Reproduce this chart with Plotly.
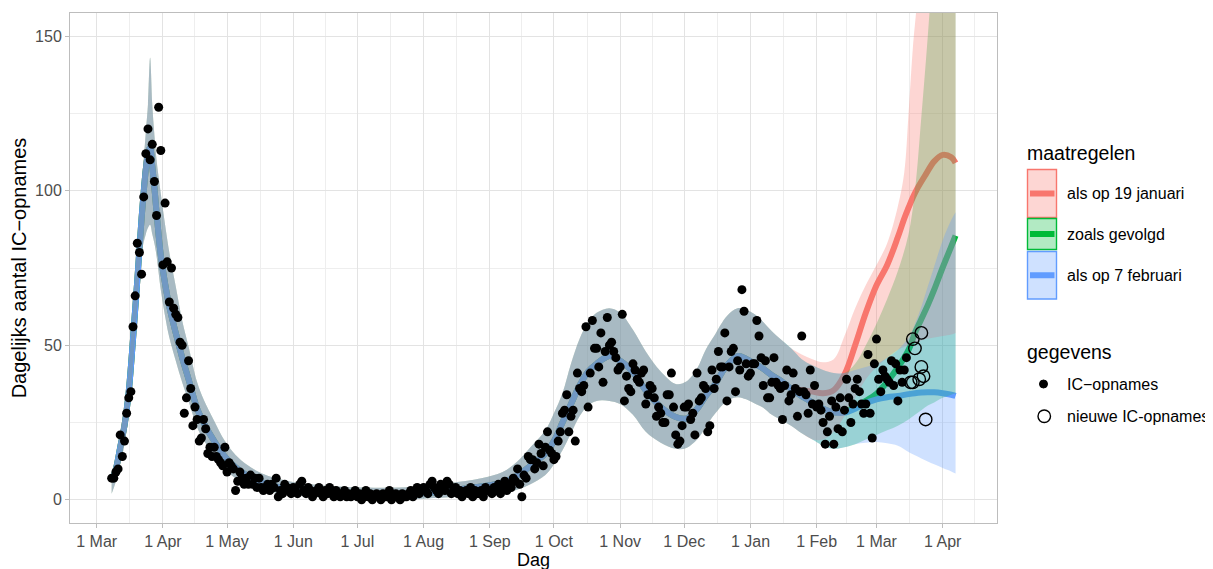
import pandas as pd
import plotly.graph_objects as go

# ---------------- data ----------------
# Daily IC admissions (black dots); one list per month, with the first date of each list
ic_2020_03 = [7, 7, 9, 10, 21, 14, 19, 28, 33, 35, 56, 66, 83, 80, 73, 98, 112, 120, 110, 115, 103, 92, 127, 113]
ic_2020_04 = [76, 96, 77, 64, 75, 62, 60, 59, 51, 50, 28, 33, 45, 36, 24, 30, 26, 19, 20, 26, 23, 15, 17, 14, 17, 14, 13, 12, 11, 17]
ic_2020_05 = [9, 12, 11, 10, 3, 6, 9, 7, 5, 7, 5, 8, 5, 7, 4, 7, 4, 3, 4, 5, 3, 5, 4, 7, 1, 3, 2, 5, 4, 3, 2]
ic_2020_06 = [4, 3, 2, 5, 6, 3, 2, 4, 3, 1, 2, 3, 4, 2, 1, 3, 2, 4, 2, 1, 3, 2, 1, 2, 3, 1, 2, 1, 2, 3]
ic_2020_07 = [1, 2, 0, 1, 3, 1, 2, 0, 1, 2, 1, 0, 2, 1, 1, 3, 0, 1, 2, 1, 0, 2, 1, 1, 2, 3, 1, 2, 4, 2, 3]
ic_2020_08 = [4, 3, 2, 5, 6, 4, 3, 2, 5, 4, 3, 6, 5, 2, 3, 4, 2, 3, 1, 2, 3, 2, 4, 1, 3, 2, 2, 3, 1, 4, 3]
ic_2020_09 = [3, 2, 4, 3, 5, 2, 4, 6, 3, 5, 4, 7, 6, 10, 5, 1, 8, 7, 14, 13, 13, 10, 12, 18, 15, 11, 17, 22, 16, 15]
ic_2020_10 = [13, 14, 19, 22, 28, 29, 34, 22, 27, 29, 19, 41, 36, 35, 37, 56, 30, 41, 58, 49, 49, 43, 54, 38, 48, 59, 50, 51, 48, 46, 42]
ic_2020_11 = [43, 60, 32, 40, 36, 35, 44, 42, 39, 38, 41, 42, 31, 34, 37, 36, 33, 27, 30, 28, 25, 25, 34, 34, 41, 30, 21, 18, 19, 24]
ic_2020_12 = [30, 30, 31, 26, 28, 21, 41, 32, 33, 37, 36, 22, 24, 42, 36, 39, 48, 43, 43, 54, 32, 43, 48, 49, 35, 45, 42, 68, 61, 44, 40]
ic_2021_01 = [41, 44, 44, 58, 53, 46, 37, 45, 33, 33, 38, 46, 38, 37, 36, 26, 37, 42, 32, 34, 41, 36, 27, 35, 53, 35, 34, 28, 42, 31, 37]
ic_2021_02 = [30, 31, 29, 25, 18, 22, 27, 32, 18, 30, 23, 33, 22, 29, 39, 33, 25, 31, 36, 39, 35, 31, 28, 31, 47, 28, 20, 44]
ic_2021_03 = [52, 39, 35, 42, 40, 39, 38, 45, 37, 44, 32, 42, 38, 42, 46]

ic_months = [
    ("2020-03-08", ic_2020_03), ("2020-04-01", ic_2020_04), ("2020-05-01", ic_2020_05),
    ("2020-06-01", ic_2020_06), ("2020-07-01", ic_2020_07), ("2020-08-01", ic_2020_08),
    ("2020-09-01", ic_2020_09), ("2020-10-01", ic_2020_10), ("2020-11-01", ic_2020_11),
    ("2020-12-01", ic_2020_12), ("2021-01-01", ic_2021_01), ("2021-02-01", ic_2021_02),
    ("2021-03-01", ic_2021_03),
]

# New IC admissions (open circles)
new_dates = ["2021-03-17", "2021-03-18", "2021-03-18", "2021-03-19", "2021-03-21",
             "2021-03-22", "2021-03-22", "2021-03-23", "2021-03-24"]
new_values = [38, 52, 38, 49, 39, 54, 43, 40, 26]

# Model fit: days since 2020-03-01
DAY0 = "2020-03-01"
hist_day = [7, 9, 11, 13, 15, 17, 19, 21, 23, 24, 25, 26, 27, 28, 30, 32, 34, 37, 40, 43,
            47, 50, 55, 60, 65, 70, 75, 80, 90, 100, 115, 130, 150, 165, 180, 190, 197, 203, 210, 214,
            218, 222, 226, 230, 234, 240, 245, 251, 257, 264, 271, 276, 281, 285, 289, 295, 300, 304, 308, 312,
            316, 320]
hist_fit = [6, 10, 17, 24, 35, 52, 71, 91, 107, 112, 114, 108, 101, 93, 79, 70, 62.5, 54, 46, 39,
            29.5, 25, 19, 14, 10.5, 8, 6.3, 5, 3.5, 2.6, 2, 1.8, 2, 3, 4.3, 5.6, 7.9, 11, 15, 19,
            25, 31, 37, 41.5, 44, 46.5, 45, 41.3, 35.4, 30, 26.8, 26.3, 29.4, 33.5, 37, 43.5, 46.5, 45.6, 44, 42.4,
            40.3, 38.6]
hist_lo = [2, 6, 11.5, 18, 28, 44, 63, 80, 86, 88, 89, 86, 83, 79, 68, 59.5, 52.5, 45, 38, 32,
           23.5, 19.5, 14, 10, 7, 5, 3.8, 2.8, 1.6, 1, 0.4, 0.2, 0.3, 0.8, 1.2, 2, 3.3, 5, 8, 11.5,
           16, 21.5, 27, 30.5, 32, 32, 31, 27.5, 22, 18.5, 16.5, 16.8, 19.5, 23.5, 27.5, 32, 33.2, 32.5, 31.2, 29.8,
           27.5, 26]
hist_hi = [9, 13.5, 22, 30, 43, 62, 82, 101, 119, 128, 143, 128, 118, 110, 99, 89, 80, 69, 58, 49.5,
           38, 32.5, 25.5, 19, 14.5, 11.5, 9.3, 7.8, 6, 5, 4.2, 3.9, 4.2, 5.4, 7, 9, 12.5, 17, 22.5, 28,
           34.5, 44, 52, 57.5, 60.5, 62, 60.5, 55, 48, 41.5, 37.5, 38.3, 42.5, 48.5, 53, 59.5, 62, 61.5, 60, 57.5,
           54.5, 52]

# Scenario "als op 19 januari"
red_day = [325, 330, 335, 340, 345, 350, 355, 360, 365, 370, 375, 378, 380, 382, 384, 388, 392, 396, 400, 402]
red_fit = [36, 35.5, 35, 34.5, 35.5, 40.5, 50, 60.5, 69.4, 76, 85, 91, 94.5, 97.8, 100.6, 105.2, 109.5, 111.6, 110.8, 109]
red_lo = [24, 21.5, 19.5, 19.5, 22, 27, 33, 39, 43, 46, 48.5, 49.5, 50, 50.5, 51, 52, 52.5, 53, 53.5, 54]
red_hi = [49, 47, 45.5, 44.5, 45.5, 53, 62, 69.5, 76, 83, 95, 106, 125, 146, 162, 210, 260, 310, 360, 380]

# Scenario "zoals gevolgd"
green_day = [325, 330, 335, 340, 345, 350, 355, 360, 365, 370, 375, 380, 383, 386, 389, 392, 396, 400, 402]
green_fit = [36, 33.5, 31.5, 29.5, 28.3, 28.7, 30, 32, 34.3, 38.2, 42.8, 48.5, 54, 58.5, 63, 68, 75.2, 82, 85.5]
green_lo = [24, 21.5, 19.5, 17.5, 16.5, 17, 18, 19.5, 21, 22.5, 24, 26, 27.5, 29, 30.5, 31.5, 33, 34, 34.5]
green_hi = [49, 45.5, 43.5, 42, 41, 41, 44, 50, 57, 65, 74, 86, 100, 124, 150, 180, 220, 260, 280]

# Scenario "als op 7 februari"
blue_day = [325, 330, 335, 340, 345, 350, 355, 360, 365, 370, 375, 380, 383, 386, 389, 392, 396, 400, 402]
blue_fit = [36, 33.5, 31.5, 29.5, 28.3, 28.2, 29.5, 31.3, 32.5, 33.2, 33.6, 34.2, 34.5, 34.7, 34.8, 34.8, 34.5, 34, 33.6]
blue_lo = [24, 21.5, 19.5, 17.5, 16.5, 17, 18, 18.5, 18.7, 18.3, 17.5, 15.5, 14.4, 13.4, 12.4, 11.5, 10.3, 9.2, 8.5]
blue_hi = [49, 45.5, 43.5, 42, 41, 41, 42, 43, 44, 46, 48.5, 52.5, 57, 62.5, 69, 75.5, 84, 90.5, 93]

scenario_names = ["als op 19 januari", "zoals gevolgd", "als op 7 februari"]
scenario_colors = ["#F8766D", "#00BA38", "#619CFF"]
scenario_fills = ["rgba(248,118,109,0.3)", "rgba(0,186,56,0.3)", "rgba(97,156,255,0.3)"]

tick_dates = ["2020-03-01", "2020-04-01", "2020-05-01", "2020-06-01", "2020-07-01", "2020-08-01",
              "2020-09-01", "2020-10-01", "2020-11-01", "2020-12-01", "2021-01-01", "2021-02-01",
              "2021-03-01", "2021-04-01"]
tick_text = ["1 Mar", "1 Apr", "1 May", "1 Jun", "1 Jul", "1 Aug", "1 Sep", "1 Oct",
             "1 Nov", "1 Dec", "1 Jan", "1 Feb", "1 Mar", "1 Apr"]
y_ticks = [0, 50, 100, 150]
y_minor = [25, 75, 125]

# ---------------- build ----------------
day0 = pd.Timestamp(DAY0)


def to_dates(days):
    return [day0 + pd.Timedelta(days=d) for d in days]


ic_x, ic_y = [], []
for start, vals in ic_months:
    ic_x += list(pd.date_range(start, periods=len(vals), freq="D"))
    ic_y += vals

scen = [
    (red_day, red_fit, red_lo, red_hi),
    (green_day, green_fit, green_lo, green_hi),
    (blue_day, blue_fit, blue_lo, blue_hi),
]

fig = go.Figure()

# lines first (ribbons are painted over them)
for (d, f, lo, hi), col in zip(scen, scenario_colors):
    fig.add_trace(go.Scatter(
        x=to_dates(hist_day + d), y=hist_fit + f, mode="lines",
        line=dict(color=col, width=6, shape="spline"),
        hoverinfo="skip", showlegend=False))

# ribbons (painting order: zoals gevolgd, als op 19 januari, als op 7 februari)
for i in [1, 0, 2]:
    d, f, lo, hi = scen[i]
    xs = to_dates(hist_day + d)
    fig.add_trace(go.Scatter(x=xs, y=hist_lo + lo, mode="lines",
                             line=dict(width=0, shape="spline"),
                             hoverinfo="skip", showlegend=False))
    fig.add_trace(go.Scatter(x=xs, y=hist_hi + hi, mode="lines", fill="tonexty",
                             fillcolor=scenario_fills[i], line=dict(width=0, shape="spline"),
                             hoverinfo="skip", showlegend=False))

# data points
fig.add_trace(go.Scatter(x=ic_x, y=ic_y, mode="markers",
                         marker=dict(color="black", size=9),
                         name="IC\u2212opnames", showlegend=False))
fig.add_trace(go.Scatter(x=pd.to_datetime(new_dates), y=new_values, mode="markers",
                         marker=dict(symbol="circle-open", color="black", size=12.5,
                                     line=dict(width=1.4, color="black")),
                         name="nieuwe IC-opnames", showlegend=False))

# ---------------- layout ----------------
# The page body adds an 8 px margin; all screen positions below are in window pixels.
OFF = 8
W, H = 1213 - OFF, 569 - OFF
L, R, T, B = 70, 997, 13, 523          # plot area in window pixels
FONT = "Liberation Sans, Arial, Helvetica, sans-serif"


def xp(px):
    return (px - L) / (R - L)


def yp(py):
    return (B - py) / (B - T)


tick_ts = pd.to_datetime(tick_dates)
minor_x = [tick_ts[i] + (tick_ts[i + 1] - tick_ts[i]) / 2 for i in range(len(tick_ts) - 1)]
minor_x.append(tick_ts[-1] + pd.Timedelta(days=15))

x_range = [day0 - pd.Timedelta(days=12.5), day0 + pd.Timedelta(days=421.4)]

grid_major = "#E3E3E3"
grid_minor = "#EEEEEE"
border = "#BDBDBD"

fig.update_layout(
    width=W, height=H,
    margin=dict(l=L - OFF, r=W - (R - OFF), t=T - OFF, b=H - (B - OFF), pad=0),
    paper_bgcolor="white", plot_bgcolor="white",
    font=dict(family=FONT, color="#4D4D4D"),
    showlegend=False,
    xaxis=dict(
        type="date", range=x_range,
        tickmode="array", tickvals=tick_ts, ticktext=tick_text,
        tickfont=dict(size=16, color="#4D4D4D"),
        ticks="outside", ticklen=4, tickcolor=border, tickwidth=1,
        showgrid=True, gridcolor=grid_major, gridwidth=1,
        minor=dict(tickvals=minor_x, showgrid=True, gridcolor=grid_minor, gridwidth=1, ticks=""),
        showline=True, linecolor=border, linewidth=1, mirror=True,
        zeroline=False,
        automargin=False,
    ),
    yaxis=dict(
        range=[-7.5, 157.5],
        tickmode="array", tickvals=y_ticks,
        tickfont=dict(size=16, color="#4D4D4D"),
        ticks="outside", ticklen=4, tickcolor=border, tickwidth=1,
        showgrid=True, gridcolor=grid_major, gridwidth=1,
        minor=dict(tickvals=y_minor, showgrid=True, gridcolor=grid_minor, gridwidth=1, ticks=""),
        showline=True, linecolor=border, linewidth=1, mirror=True,
        zeroline=False,
        title=dict(text="Dagelijks aantal IC\u2212opnames", font=dict(size=20, color="black"), standoff=5),
        automargin=False,
    ),
)

# ---------------- manual legend and x-axis title ----------------
shapes = []
annotations = []


def add_text(x, y, text, size, xanchor="left"):
    annotations.append(dict(x=xp(x), y=yp(y), xref="paper", yref="paper", text=text,
                            showarrow=False, xanchor=xanchor, yanchor="middle",
                            font=dict(size=size, color="black", family=FONT)))


# x-axis title, kept inside the window and clear of the tick labels
add_text((L + R) / 2, 559.5, "Dag", 18, xanchor="center")

add_text(1025, 153, "maatregelen", 19.5)
key_boxes = [(169.5, 217.5), (218.5, 249.5), (251.5, 299)]
for (y0, y1), col, fc, name in zip(key_boxes, scenario_colors, scenario_fills, scenario_names):
    shapes.append(dict(type="rect", xref="paper", yref="paper",
                       x0=xp(1027.5), x1=xp(1056.5), y0=yp(y1), y1=yp(y0),
                       fillcolor=fc, line=dict(color=col, width=1.4)))
    ym = (y0 + y1) / 2
    shapes.append(dict(type="line", xref="paper", yref="paper",
                       x0=xp(1030), x1=xp(1054.5), y0=yp(ym), y1=yp(ym),
                       line=dict(color=col, width=6)))
    add_text(1065, ym, name, 16)

add_text(1025, 352, "gegevens", 19.5)
shapes.append(dict(type="circle", xref="paper", yref="paper",
                   x0=xp(1039.5), x1=xp(1047.5), y0=yp(388), y1=yp(380),
                   fillcolor="black", line=dict(color="black", width=1)))
add_text(1065, 384, "IC\u2212opnames", 16)
shapes.append(dict(type="circle", xref="paper", yref="paper",
                   x0=xp(1038), x1=xp(1050.5), y0=yp(422.5), y1=yp(410),
                   fillcolor="rgba(0,0,0,0)", line=dict(color="black", width=1.4)))
add_text(1065, 416, "nieuwe IC-opnames", 16)

fig.update_layout(shapes=shapes, annotations=annotations)

fig.write_html("out.html")
